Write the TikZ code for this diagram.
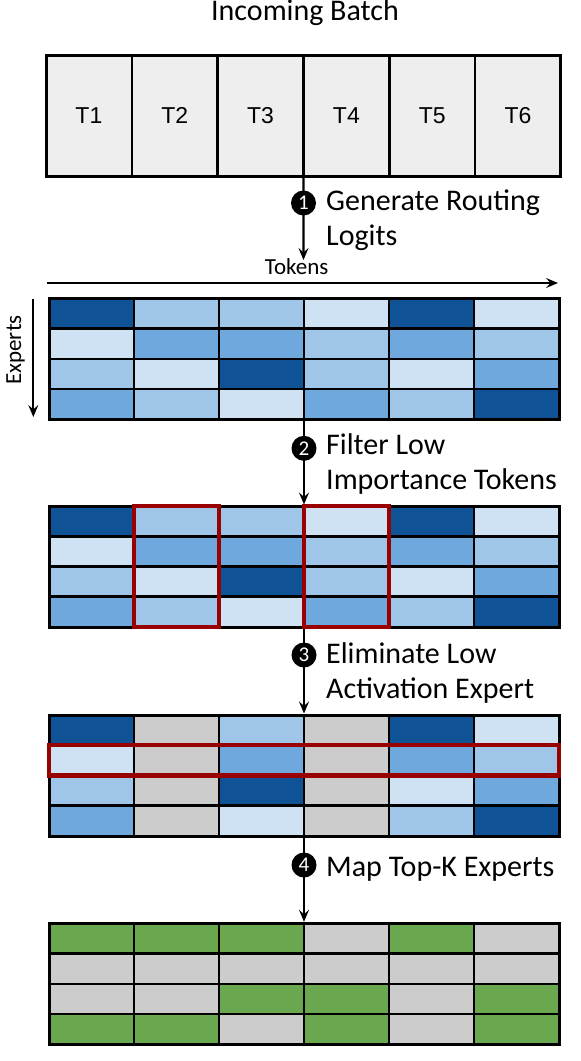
\documentclass[tikz,border=0pt]{standalone}
\usepackage{fontspec}
\setmainfont{Carlito}
\newfontfamily\arialf{Liberation Sans}
\usetikzlibrary{arrows.meta,fit}
\definecolor{cdark}{HTML}{0F5396}
\definecolor{cmid}{HTML}{6FA8DC}
\definecolor{clight}{HTML}{9FC5E8}
\definecolor{cvlight}{HTML}{CFE2F3}
\definecolor{cgray}{HTML}{CCCCCC}
\definecolor{cgreen}{HTML}{6AA84F}
\definecolor{cbatch}{HTML}{EEEEEE}
\definecolor{cred}{HTML}{990000}
\newcommand\mkgrid[3]{%
  \foreach \c [count=\i from 0] in {#3} {
    \pgfmathtruncatemacro\rr{div(\i,6)+1}
    \pgfmathtruncatemacro\cc{mod(\i,6)+1}
    \node[cell, fill=\c] (#1-\rr-\cc) at ({49+85*(\cc-0.5)}, {#2+30.25*(\rr-0.5)}) {};
  }
  \node[gridframe, fit=(#1-1-1)(#1-4-6)] (#1) {};
}
\begin{document}
\begin{tikzpicture}[x=1pt,y=-1pt,
  cell/.style={draw=black, line width=2.6pt, minimum width=85pt, minimum height=30.25pt, inner sep=0pt, outer sep=0pt},
  gridframe/.style={draw=black, line width=3pt, inner sep=0pt},
  bcell/.style={draw=black, line width=2.4pt, fill=cbatch, minimum width=85.83pt, minimum height=120.3pt, inner sep=0pt, outer sep=0pt, font=\arialf\fontsize{23}{26}\selectfont},
  arr/.style={line width=2.2pt, -{Stealth[length=12pt,width=10pt,inset=4.5pt]}},
  num/.style={circle, fill=black, minimum size=25pt, inner sep=0pt, text=white, font=\fontsize{21}{21}\selectfont},
  steptext/.style={anchor=base west, inner sep=0pt, align=left, font=\fontsize{30}{35}\selectfont},
  redbox/.style={draw=cred, line width=4.2pt, inner sep=0pt},
  small/.style={inner sep=0pt, font=\fontsize{23}{25}\selectfont}]
\useasboundingbox (0,0) rectangle (581,1061);

% title
\node[inner sep=0pt, anchor=base, font=\fontsize{30}{35}\selectfont] (title) at (305,20.7) {Incoming Batch};

% batch
\foreach \i in {1,...,6} {
  \node[bcell] (t\i) at ({46+85.83*(\i-0.5)}, 115.85) {T\i};
}
\node[gridframe, fit=(t1)(t6)] (batch) {};

% axes
\node[small, anchor=base] (tok) at (296.7,274) {Tokens};
\coordinate (tokL) at (47,283);
\coordinate (tokR) at (558,283);
\draw[arr] (tokL) -- (tokR);
\node[small, anchor=base, rotate=90] (exp) at (21,350) {Experts};
\coordinate (expT) at (33.3,299);
\coordinate (expB) at (33.3,417);
\draw[arr] (expT) -- (expB);

% grids
\mkgrid{ga}{298.3}{cdark,clight,clight,cvlight,cdark,cvlight,
  cvlight,cmid,cmid,clight,cmid,clight,
  clight,cvlight,cdark,clight,cvlight,cmid,
  cmid,clight,cvlight,cmid,clight,cdark}
\mkgrid{gb}{506}{cdark,clight,clight,cvlight,cdark,cvlight,
  cvlight,cmid,cmid,clight,cmid,clight,
  clight,cvlight,cdark,clight,cvlight,cmid,
  cmid,clight,cvlight,cmid,clight,cdark}
\mkgrid{gc}{715}{cdark,cgray,clight,cgray,cdark,cvlight,
  cvlight,cgray,cmid,cgray,cmid,clight,
  clight,cgray,cdark,cgray,cvlight,cmid,
  cmid,cgray,cvlight,cgray,clight,cdark}
\mkgrid{gd}{923.3}{cgreen,cgreen,cgreen,cgray,cgreen,cgray,
  cgray,cgray,cgray,cgray,cgray,cgray,
  cgray,cgray,cgreen,cgreen,cgray,cgreen,
  cgreen,cgreen,cgray,cgreen,cgray,cgreen}

% red highlight boxes
\node[redbox, fit=(gb-1-2)(gb-4-2)] (rb1) {};
\node[redbox, fit=(gb-1-4)(gb-4-4)] (rb2) {};
\node[redbox, fit=(gc-2-1)(gc-2-6)] (rb3) {};

% arrows
\coordinate (a1end) at (303.5,260);
\draw[arr] (batch.south) -- (a1end);
\draw[arr] (ga.south) -- (gb.north);
\draw[arr] (gb.south) -- (gc.north);
\draw[arr] (gc.south) -- (gd.north);

% step markers
\node[num] (n1) at (303.5,203) {1};
\node[num] (n2) at (304,448.3) {2};
\node[num] (n3) at (304,655) {3};
\node[num] (n4) at (304,865) {4};

\node[steptext] (s1) at (326,245) {Generate Routing\\Logits};
\node[steptext] (s2) at (326,489.3) {Filter Low\\Importance Tokens};
\node[steptext] (s3) at (326,698.3) {Eliminate Low\\Activation Expert};
\node[steptext] (s4) at (326,876) {Map Top-K Experts};
\end{tikzpicture}
\end{document}
